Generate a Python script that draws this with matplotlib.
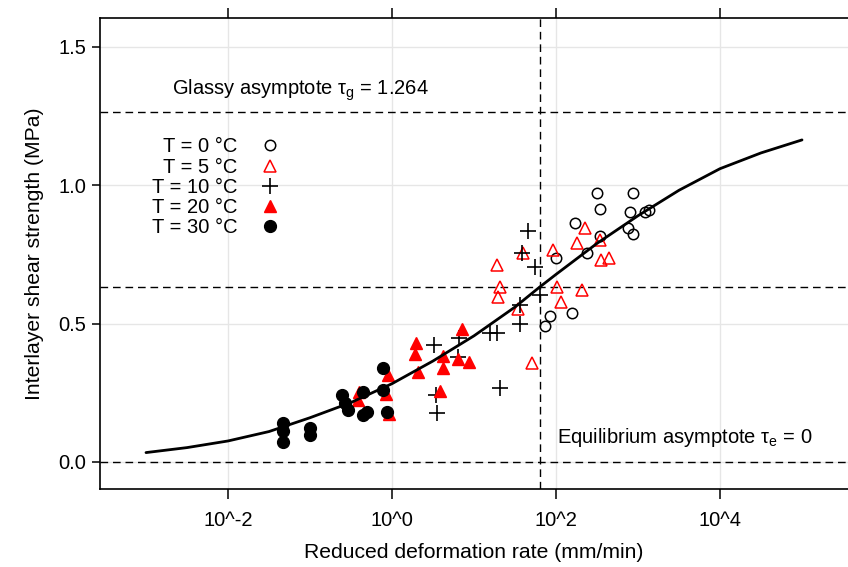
import numpy as np
import matplotlib
matplotlib.use("Agg")
import matplotlib.pyplot as plt
from matplotlib.ticker import FixedLocator, FixedFormatter, NullLocator

plt.rcParams["font.family"] = ["Liberation Sans", "DejaVu Sans"]
plt.rcParams["font.size"] = 14.5
plt.rcParams["mathtext.fontset"] = "custom"
plt.rcParams["mathtext.rm"] = "Liberation Sans"

# ── Data (log10 of reduced rate in mm/min, shear strength in MPa) ─────────
log_rate_t0 = [2.50, 2.54, 2.23, 2.54, 2.38, 2.00, 1.93, 1.87, 2.20,
               2.94, 2.90, 3.09, 3.13, 2.88, 2.94]
tau_t0 = [0.972, 0.914, 0.864, 0.817, 0.755, 0.737, 0.528, 0.492, 0.538,
          0.972, 0.904, 0.904, 0.911, 0.846, 0.824]

log_rate_t5 = [1.28, 1.32, 1.29, 1.54, 1.60, 1.71, 1.96, 2.01, 2.06,
               2.26, 2.35, 2.32, 2.54, 2.55, 2.65]
tau_t5 = [0.712, 0.632, 0.596, 0.553, 0.755, 0.358, 0.766, 0.632, 0.578,
          0.791, 0.846, 0.622, 0.802, 0.730, 0.737]

log_rate_t10 = [0.51, 0.54, 0.55, 0.82, 0.80, 1.20, 1.28, 1.32, 1.56,
                1.56, 1.59, 1.66, 1.74, 1.80]
tau_t10 = [0.423, 0.242, 0.177, 0.448, 0.379, 0.466, 0.466, 0.267, 0.567,
           0.499, 0.755, 0.835, 0.705, 0.604]

log_rate_t20 = [-0.40, -0.41, -0.05, -0.07, -0.04, 0.29, 0.28, 0.32, 0.59,
                0.62, 0.62, 0.80, 0.85, 0.94]
tau_t20 = [0.253, 0.224, 0.314, 0.246, 0.173, 0.430, 0.390, 0.325, 0.257,
           0.383, 0.340, 0.372, 0.481, 0.361]

log_rate_t30 = [-1.33, -1.33, -1.33, -1.00, -1.00, -0.61, -0.57, -0.54,
                -0.35, -0.35, -0.30, -0.11, -0.11, -0.06]
tau_t30 = [0.141, 0.112, 0.072, 0.123, 0.098, 0.242, 0.213, 0.188,
           0.253, 0.170, 0.181, 0.340, 0.260, 0.181]

# fitted master curve
log_rate_fit = [-3.0, -2.5, -2.0, -1.5, -1.0, -0.5, 0.0, 0.5, 1.0, 1.5,
                1.8, 2.0, 2.5, 3.0, 3.5, 4.0, 4.5, 5.0]
tau_fit = [0.034, 0.052, 0.076, 0.110, 0.160, 0.215, 0.283, 0.365, 0.456,
           0.560, 0.632, 0.678, 0.790, 0.890, 0.982, 1.060, 1.117, 1.164]

tau_glassy = 1.264
tau_equil = 0.0
log_rate_mid = 1.80

x_ticks = [1e-2, 1e0, 1e2, 1e4]
x_tick_labels = ["10^-2", "10^0", "10^2", "10^4"]
y_ticks = [0.0, 0.5, 1.0, 1.5]
y_tick_labels = ["0.0", "0.5", "1.0", "1.5"]

RED = "#ff0000"

# ── Plot ─────────────────────────────────────────────────────────────────
fig = plt.figure(figsize=(8.48, 5.67), dpi=100)
ax = fig.add_axes([100 / 848, 1 - 489 / 567, 748 / 848, 471 / 567])

ax.set_xscale("log")
ax.set_xlim(10 ** -3.561, 10 ** 5.561)
ax.set_ylim(-0.0976, 1.6046)

ax.grid(True, color="#e6e6e6", lw=1)
ax.set_axisbelow(True)

dash = dict(color="black", lw=1.0, dashes=(5.5, 3.5), zorder=1.5)
ax.axhline(tau_glassy, **dash)
ax.axhline(tau_glassy / 2, **dash)
ax.axhline(tau_equil, **dash)
ax.axvline(10 ** log_rate_mid, **dash)

ax.plot(10 ** np.array(log_rate_t0), tau_t0, ls="none", marker="o", ms=7.5,
        mfc="none", mec="black", mew=1.1, label="T = 0 °C")
ax.plot(10 ** np.array(log_rate_t5), tau_t5, ls="none", marker="^", ms=9,
        mfc="none", mec=RED, mew=1.1, label="T = 5 °C")
ax.plot(10 ** np.array(log_rate_t10), tau_t10, ls="none", marker="+", ms=11,
        mec="black", mew=1.2, label="T = 10 °C")
ax.plot(10 ** np.array(log_rate_t20), tau_t20, ls="none", marker="^", ms=9,
        mfc=RED, mec=RED, mew=1.0, label="T = 20 °C")
ax.plot(10 ** np.array(log_rate_t30), tau_t30, ls="none", marker="o", ms=8.5,
        mfc="black", mec="black", label="T = 30 °C")

ax.plot(10 ** np.array(log_rate_fit), tau_fit, color="black", lw=2.0,
        solid_capstyle="round", solid_joinstyle="round", zorder=3)

ax.text(10 ** -2.68, 1.345, r"Glassy asymptote $\mathregular{\tau_g}$ = 1.264",
        ha="left", va="center")
ax.text(10 ** 2.01, 0.087, r"Equilibrium asymptote $\mathregular{\tau_e}$ = 0",
        ha="left", va="center")

ax.legend(markerfirst=False, frameon=False, loc="upper right",
          bbox_to_anchor=(0.2406, 0.7463), borderpad=0, borderaxespad=0,
          handlelength=1.0, handletextpad=1.1, labelspacing=0.06, numpoints=1)

# axes, ticks
ax.xaxis.set_major_locator(FixedLocator(x_ticks))
ax.xaxis.set_major_formatter(FixedFormatter(x_tick_labels))
ax.xaxis.set_minor_locator(NullLocator())
ax.yaxis.set_major_locator(FixedLocator(y_ticks))
ax.yaxis.set_major_formatter(FixedFormatter(y_tick_labels))

ax.tick_params(axis="x", direction="out", length=7, width=1.1, pad=9,
               top=True, labeltop=False)
ax.tick_params(axis="y", direction="out", length=6, width=1.1, pad=4)
for side in ("left", "top", "bottom"):
    ax.spines[side].set_linewidth(1.2)
ax.spines["right"].set_visible(False)

ax.set_xlabel("Reduced deformation rate (mm/min)", fontsize=15.2, labelpad=9)
ax.set_ylabel("Interlayer shear strength (MPa)", fontsize=15.2, labelpad=10)

fig.savefig("out.png", dpi=100)
